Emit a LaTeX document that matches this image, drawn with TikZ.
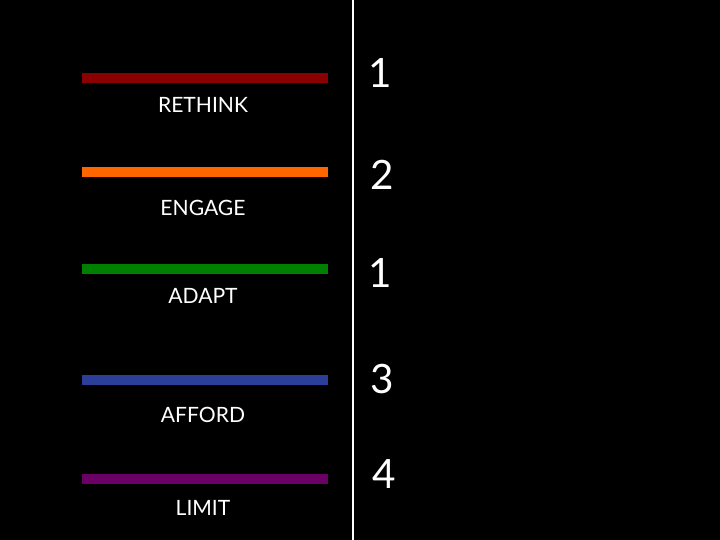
\documentclass[tikz,border=0pt]{standalone}
\usepackage{fontspec}
\setmainfont{Lato}
\usepackage{tikz}
\definecolor{rethinkc}{HTML}{8A0000}
\definecolor{engagec}{HTML}{FF6600}
\definecolor{adaptc}{HTML}{008000}
\definecolor{affordc}{HTML}{2B3F99}
\definecolor{limitc}{HTML}{6A0066}
\begin{document}
\begin{tikzpicture}[x=0.02cm,y=-0.02cm]
      \tikzstyle{bar}=[line width=5.5pt]
      \tikzstyle{word}=[text=white,font=\fontsize{12}{14}\selectfont]
      \tikzstyle{count}=[text=white,font=\fontsize{23}{26}\selectfont]
      \fill[black] (0,0) rectangle (720,540);
      \useasboundingbox (0,0) rectangle (720,540);
      \coordinate (top) at (353,0);
      \coordinate (bottom) at (353,540);
      \draw[white,line width=1.5pt] (top) -- (bottom);
      \foreach \name/\col/\ly/\ty/\n/\nx/\ny in {RETHINK/rethinkc/78/105/1/380/73,
          ENGAGE/engagec/172/208/2/382/175,
          ADAPT/adaptc/269/296/1/380/273,
          AFFORD/affordc/380/415/3/382/379,
          LIMIT/limitc/479/508/4/384/474}{
        \coordinate (\name-l) at (82,\ly);
        \coordinate (\name-r) at (328,\ly);
        \draw[bar,\col] (\name-l) -- (\name-r);
        \node(\name)[word] at (203,\ty) {\name};
        \node(\name-n)[count] at (\nx,\ny) {\n};
      }
  \end{tikzpicture}
\end{document}
